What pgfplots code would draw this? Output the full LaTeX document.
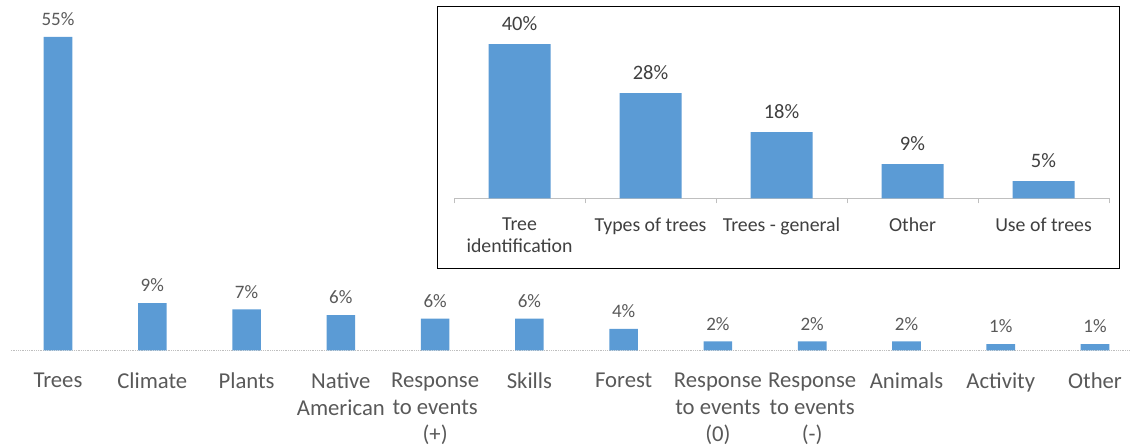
\documentclass[border=0pt]{standalone}
\usepackage{fontspec}
\setmainfont{Carlito}
\usepackage{pgfplots}
\pgfplotsset{compat=1.18}
\definecolor{barblue}{HTML}{5B9BD5}
\definecolor{txtgray}{HTML}{595959}
\definecolor{txtdark}{HTML}{404040}
\definecolor{axgray}{HTML}{BFBFBF}
\begin{document}
\begin{tikzpicture}
\path[use as bounding box] (0pt,0pt) rectangle (1130pt,446pt);
\begin{axis}[
  at={(10.9pt,95.5pt)}, anchor=south west,
  scale only axis, width=1119pt, height=342pt,
  xmin=-0.5, xmax=11.37, ymin=0, ymax=60,
  axis x line*=bottom, axis y line=none,
  x axis line style={draw=axgray, densely dotted, line width=0.8pt, -},
  xtick={0,...,11},
  xticklabels={Trees, Climate, Plants, {Native\\American}, {Response\\to events\\(+)}, Skills, Forest, {Response\\to events\\(0)}, {Response\\to events\\(-)}, Animals, Activity, Other},
  major tick length=0pt,
  xticklabel style={align=center, anchor=north, inner sep=0pt, yshift=-22.5pt, font=\fontsize{22.7}{26.8}\selectfont, text=txtgray},
  ytick=\empty,
  clip=false,
]
\addplot[ybar, bar width=28.6pt, fill=barblue, draw=none,
  point meta=explicit symbolic,
  nodes near coords={\pgfplotspointmeta\%},
  every node near coord/.append style={anchor=south, inner sep=0pt, yshift=11pt, font=\fontsize{19}{22}\selectfont, text=txtgray}]
table[meta=label] {
x y label
0 55 55
1 8.3 9
2 7.2 7
3 6.2 6
4 5.6 6
5 5.6 6
6 3.8 4
7 1.6 2
8 1.6 2
9 1.6 2
10 1.1 1
11 1.1 1
};
\end{axis}
\fill[white] (437pt,177pt) rectangle (1119pt,439.5pt);
\draw[black, line width=1pt] (437pt,177pt) rectangle (1119pt,439.5pt);
\begin{axis}[
  at={(454pt,247.5pt)}, anchor=south west,
  scale only axis, width=655pt, height=193pt,
  xmin=-0.5, xmax=4.5, ymin=0, ymax=50,
  axis x line*=bottom, axis y line=none,
  x axis line style={draw=axgray, line width=0.8pt, -},
  xtick={0,...,4},
  xticklabels={{Tree\\identification}, Types of trees, Trees - general, Other, Use of trees},
  major tick length=0pt,
  extra x ticks={-0.5,0.5,1.5,2.5,3.5,4.5},
  extra x tick labels={},
  extra x tick style={major tick length=5pt, tick align=outside, tick style={draw=axgray, line width=0.8pt}},
  xticklabel style={align=center, anchor=north, inner sep=0pt, yshift=-19pt, font=\fontsize{19.8}{21.7}\selectfont, text=txtdark},
  ytick=\empty,
  clip=false,
]
\addplot[ybar, bar width=62pt, fill=barblue, draw=none,
  point meta=explicit symbolic,
  nodes near coords={\pgfplotspointmeta\%},
  every node near coord/.append style={anchor=south, inner sep=0pt, yshift=13pt, font=\fontsize{20.5}{24}\selectfont, text=txtdark}]
table[meta=label] {
x y label
0 40 40
1 27.3 28
2 17.2 18
3 8.9 9
4 4.5 5
};
\end{axis}
\end{tikzpicture}
\end{document}
